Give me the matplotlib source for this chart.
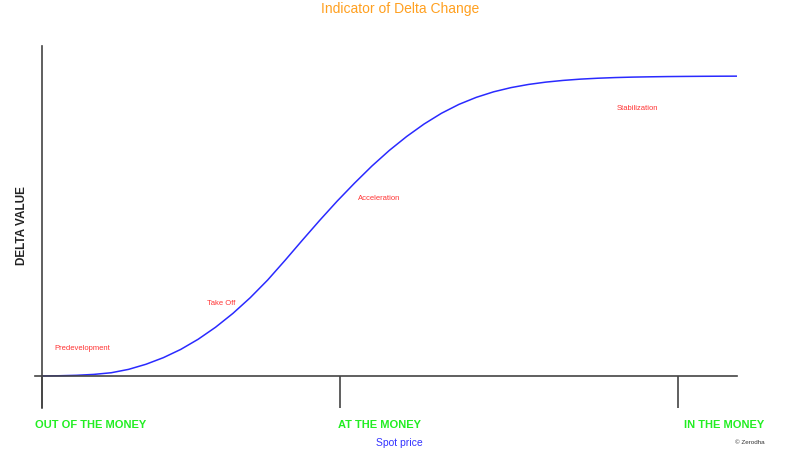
import numpy as np
import matplotlib
matplotlib.use('Agg')
import matplotlib.pyplot as plt

plt.rcParams['font.family'] = ['Liberation Sans', 'DejaVu Sans']

# spot price (0 = far OTM, 100 = deep ITM) and delta
spot = [0, 2.5, 5, 7.5, 10, 12.5, 15, 17.5, 20, 22.5, 25, 27.5, 30, 32.5, 35, 37.5,
        40, 42.5, 45, 47.5, 50, 52.5, 55, 57.5, 60, 62.5, 65, 67.5, 70, 72.5, 75,
        77.5, 80, 82.5, 85, 87.5, 90, 92.5, 95, 97.5, 100]
delta = [0, 0.0008, 0.0023, 0.0053, 0.0108, 0.0221, 0.0391, 0.0611, 0.0886, 0.1224,
         0.1624, 0.2086, 0.2611, 0.3199, 0.3854, 0.4529, 0.5192, 0.5830, 0.6430, 0.7000,
         0.7520, 0.7985, 0.8400, 0.8758, 0.9053, 0.9288, 0.9473, 0.9613, 0.9718, 0.9796,
         0.9853, 0.9896, 0.9926, 0.9948, 0.9963, 0.9973, 0.9981, 0.9986, 0.9990, 0.9993,
         0.9995]

tick_pos = [0, 42.9, 91.5]
money_labels = ['OUT OF THE MONEY', 'AT THE MONEY', 'IN THE MONEY']
phases = ['Predevelopment', 'Take Off', 'Acceleration', 'Stabilization']

W, H = 803, 463
fig = plt.figure(figsize=(W / 100, H / 100), dpi=100)
# axes box in pixels: x 35..737, y 46..408
ax = fig.add_axes([35 / W, 1 - 408 / H, (737 - 35) / W, (408 - 46) / H])
ax.set_xlim(-0.96, 100)
ax.set_ylim(-0.1067, 1.1)

axis_col = '#444444'
ax.plot(spot, delta, color='#2a2aff', lw=1.1, solid_joinstyle='round')

for s in ['top', 'right']:
    ax.spines[s].set_visible(False)
ax.spines['left'].set_position(('data', 0))
ax.spines['bottom'].set_position(('data', 0))
for s in ['left', 'bottom']:
    ax.spines[s].set_color(axis_col)
    ax.spines[s].set_linewidth(1.2)

ax.set_yticks([])
ax.set_xticks(tick_pos)
ax.set_xticklabels([])
ax.tick_params(axis='x', direction='out', length=23, width=1.2, color=axis_col)

# money labels under the ticks
label_x = [-0.96, 42.6, 92.4]
for x, lab in zip(label_x, money_labels):
    ax.text(x, -0.163, lab, color='#22ee22', fontsize=8, fontweight='bold',
            ha='left', va='center')

ax.text(51.5, -0.223, 'Spot price', color='#3333ff', fontsize=7.5, ha='center', va='center')
ax.text(104, -0.223, '© Zerodha', color='#333333', fontsize=4.5, ha='right', va='center')

# phase annotations
phase_xy = [(1.77, 0.090), (23.8, 0.240), (45.5, 0.590), (82.7, 0.890)]
for (x, y), p in zip(phase_xy, phases):
    ax.text(x, y, p, color='#ff3333', fontsize=5.5, ha='left', va='center')

fig.text(22 / W, 1 - 226 / H, 'DELTA VALUE', rotation=90, fontsize=8.5,
         fontweight='bold', color='#222222', ha='center', va='center')
fig.text(400 / W, 1 - 9 / H, 'Indicator of Delta Change', color='#ffa020',
         fontsize=10, ha='center', va='center')

fig.savefig('out.png', dpi=100, facecolor='white')
